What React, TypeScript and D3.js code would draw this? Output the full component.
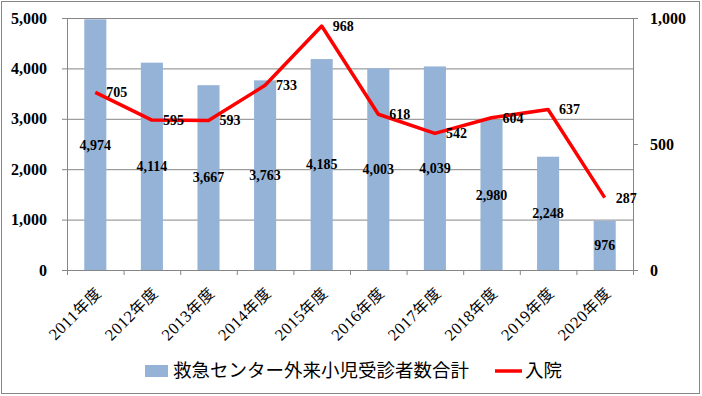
import React from 'react';
import * as d3 from 'd3';

const years = ['2011年度', '2012年度', '2013年度', '2014年度', '2015年度', '2016年度', '2017年度', '2018年度', '2019年度', '2020年度'];
const outpatients = [4974, 4114, 3667, 3763, 4185, 4003, 4039, 2980, 2248, 976];
const admissions = [705, 595, 593, 733, 968, 618, 542, 604, 637, 287];
const leftTicks = [0, 1000, 2000, 3000, 4000, 5000];
const rightTicks = [0, 500, 1000];

const W = 702, H = 396;
const PLOT = { LEFT: 67, RIGHT: 633, TOP: 18, BOTTOM: 270 };
const SERIF = '"Liberation Serif", "Times New Roman", serif';
const CJK = '"Noto Sans CJK JP", sans-serif';

export default function App() {
    const x = d3.scaleBand<string>().domain(years).range([PLOT.LEFT, PLOT.RIGHT]).paddingInner(0.61).paddingOuter(0.305);
    const band = d3.scaleBand<string>().domain(years).range([PLOT.LEFT, PLOT.RIGHT]);
    const yL = d3.scaleLinear().domain([0, 5000]).range([PLOT.BOTTOM, PLOT.TOP]);
    const yR = d3.scaleLinear().domain([0, 1000]).range([PLOT.BOTTOM, PLOT.TOP]);
    const cx = (c: string) => (band(c) as number) + band.bandwidth() / 2;

    const line = d3.line<number>().x((_, i) => cx(years[i])).y(v => yR(v));
    const fmt = d3.format(',');

    return (
        <svg width={W} height={H} style={{ position: 'absolute', left: 0, top: 0, background: '#fff' }}>
            <rect x={1.5} y={1.5} width={W - 4} height={H - 4} fill='#fff' stroke='#868686' strokeWidth={1} />
            {/* gridlines */}
            {leftTicks.map(t => (
                <line key={`g-${t}`} x1={PLOT.LEFT} x2={PLOT.RIGHT} y1={yL(t) + 0.5} y2={yL(t) + 0.5} stroke='#868686' strokeWidth={1} />
            ))}
            <line x1={PLOT.LEFT + 0.5} x2={PLOT.LEFT + 0.5} y1={PLOT.TOP} y2={PLOT.BOTTOM} stroke='#868686' />
            <line x1={PLOT.RIGHT + 0.5} x2={PLOT.RIGHT + 0.5} y1={PLOT.TOP} y2={PLOT.BOTTOM} stroke='#868686' />
            {/* axis ticks */}
            {leftTicks.map(t => (
                <g key={`lt-${t}`}>
                    <line x1={PLOT.LEFT - 5} x2={PLOT.LEFT} y1={yL(t) + 0.5} y2={yL(t) + 0.5} stroke='#868686' />
                    <text x={47} y={yL(t)} dy='0.35em' textAnchor='end' fontFamily={SERIF} fontWeight='bold' fontSize={16}>{fmt(t)}</text>
                </g>
            ))}
            {rightTicks.map(t => (
                <g key={`rt-${t}`}>
                    <line x1={PLOT.RIGHT} x2={PLOT.RIGHT + 5} y1={yR(t) + 0.5} y2={yR(t) + 0.5} stroke='#868686' />
                    <text x={650} y={yR(t)} dy='0.35em' textAnchor='start' fontFamily={SERIF} fontWeight='bold' fontSize={16}>{fmt(t)}</text>
                </g>
            ))}
            {d3.range(years.length + 1).map(i => {
                const xx = PLOT.LEFT + i * band.bandwidth() + 0.5;
                return <line key={`xt-${i}`} x1={xx} x2={xx} y1={PLOT.BOTTOM} y2={PLOT.BOTTOM + 5} stroke='#868686' />;
            })}
            {/* bars */}
            {outpatients.map((v, i) => (
                <rect key={`b-${i}`} x={x(years[i])} y={yL(v)} width={x.bandwidth()} height={yL(0) - yL(v)} fill='#95B3D7' />
            ))}
            <line x1={PLOT.LEFT} x2={PLOT.RIGHT} y1={PLOT.BOTTOM + 0.5} y2={PLOT.BOTTOM + 0.5} stroke='#868686' />
            {/* bar labels */}
            {outpatients.map((v, i) => (
                <text key={`bl-${i}`} x={cx(years[i])} y={(yL(v) + yL(0)) / 2} dy='0.35em' textAnchor='middle' fontFamily={SERIF} fontWeight='bold' fontSize={14}>{fmt(v)}</text>
            ))}
            {/* line */}
            <path d={line(admissions) || ''} fill='none' stroke='#FF0000' strokeWidth={3.5} strokeLinejoin='round' />
            {admissions.map((v, i) => (
                <text key={`ll-${i}`} x={cx(years[i]) + 11} y={yR(v)} dy='0.35em' textAnchor='start' fontFamily={SERIF} fontWeight='bold' fontSize={14}>{v}</text>
            ))}
            {/* category labels */}
            {years.map(c => (
                <text key={`c-${c}`} transform={`translate(${cx(c) + 3},${PLOT.BOTTOM + 20}) rotate(-45)`} textAnchor='end' dy='0.35em' fontFamily={SERIF} fontSize={16.5} letterSpacing={0.5}>
                    <tspan>{c.slice(0, 4)}</tspan><tspan fontFamily={CJK} fontSize={15.5}>{c.slice(4)}</tspan>
                </text>
            ))}
            {/* legend */}
            <rect x={145} y={365} width={23} height={12} fill='#95B3D7' />
            <text x={173} y={371} dy='0.35em' fontFamily={CJK} fontSize={18.5}>救急センター外来小児受診者数合計</text>
            <line x1={495} x2={522} y1={371} y2={371} stroke='#FF0000' strokeWidth={3.5} />
            <text x={525} y={371} dy='0.35em' fontFamily={CJK} fontSize={18.5}>入院</text>
        </svg>
    );
}
